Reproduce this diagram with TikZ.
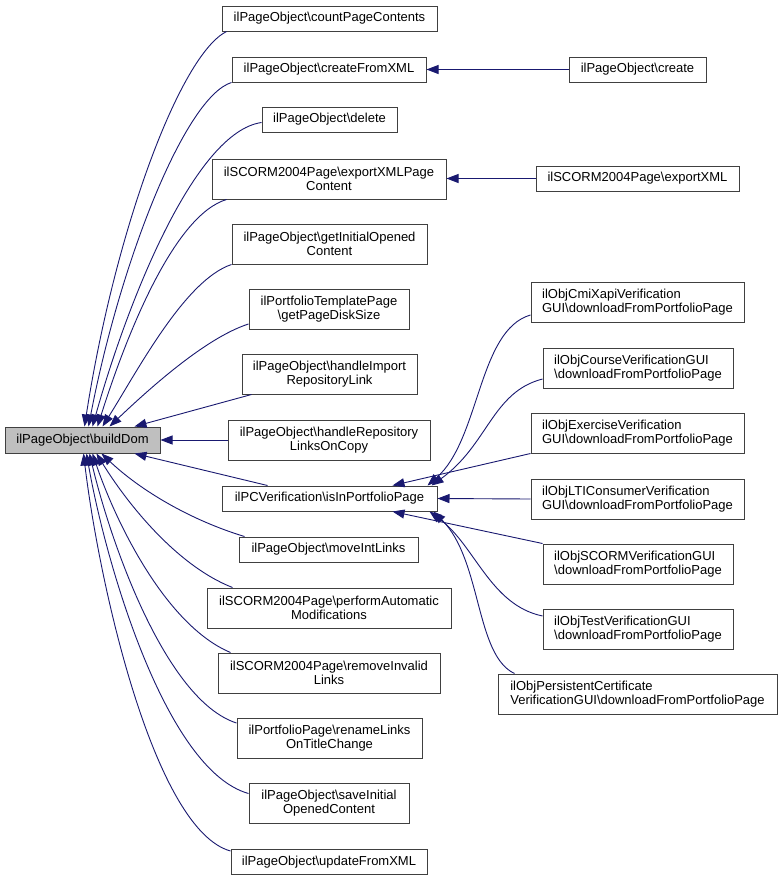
\documentclass[tikz,border=0pt]{standalone}
\usepackage{fontspec}
\setmainfont{Liberation Sans}
\usetikzlibrary{arrows.meta}
\definecolor{edgec}{HTML}{191970}
\definecolor{boxc}{HTML}{404040}
\definecolor{hlc}{HTML}{BFBFBF}
\newcommand{\bsl}{\textbackslash{}}
\begin{document}
\begin{tikzpicture}[x=1pt,y=-1pt,
  box/.style={draw=boxc, line width=1pt, fill=white, inner sep=0pt, font=\fontsize{13}{14}\selectfont, anchor=center},
  sz/.style 2 args={minimum width=#1pt, minimum height=#2pt},
  mid/.style={box, align=center},
  rgt/.style={box, align=left},
  cur/.style={box, fill=hlc, align=center},
  edge/.style={draw=edgec, line width=0.9pt, -{Triangle[length=12pt,width=9pt]}}
]
\fill[white] (0,0) rectangle (783,881);
\useasboundingbox (0,0) rectangle (783,881);

% focus node
\node[cur, sz={155}{26}] (bd) at (82.5,440) {ilPageObject\bsl buildDom};

% middle column
\node[mid, sz={215}{25}] (cnt) at (329.5,18.5) {ilPageObject\bsl countPageContents};
\node[mid, sz={194}{25}] (cfx) at (329,69.5) {ilPageObject\bsl createFromXML};
\node[mid, sz={135}{25}] (del) at (329.5,119.5) {ilPageObject\bsl delete};
\node[mid, sz={234}{40}] (exp) at (329,179) {ilSCORM2004Page\bsl exportXMLPage\\Content};
\node[mid, sz={195}{40}] (gio) at (329.5,244) {ilPageObject\bsl getInitialOpened\\Content};
\node[mid, sz={160}{40}] (gpd) at (329,309) {ilPortfolioTemplatePage\\\bsl getPageDiskSize};
\node[mid, sz={175}{40}] (hir) at (329.5,374) {ilPageObject\bsl handleImport\\RepositoryLink};
\node[mid, sz={202}{40}] (hrl) at (329,440) {ilPageObject\bsl handleRepository\\LinksOnCopy};
\node[mid, sz={215}{25}] (iip) at (329.5,498.5) {ilPCVerification\bsl isInPortfolioPage};
\node[mid, sz={179}{25}] (mil) at (328.5,549.5) {ilPageObject\bsl moveIntLinks};
\node[mid, sz={244}{40}] (pam) at (329,608) {ilSCORM2004Page\bsl performAutomatic\\Modifications};
\node[mid, sz={222}{40}] (ril) at (329,673) {ilSCORM2004Page\bsl removeInvalid\\Links};
\node[mid, sz={185}{40}] (rlt) at (329.5,738) {ilPortfolioPage\bsl renameLinks\\OnTitleChange};
\node[mid, sz={160}{40}] (sio) at (329,803.5) {ilPageObject\bsl saveInitial\\OpenedContent};
\node[mid, sz={196}{25}] (ufx) at (329,862) {ilPageObject\bsl updateFromXML};

% right column
\node[mid, sz={137}{25}] (crt) at (637.5,69.5) {ilPageObject\bsl create};
\node[mid, sz={203}{25}] (exx) at (637.5,178.5) {ilSCORM2004Page\bsl exportXML};
\node[rgt, sz={213}{40}] (cmi) at (637.5,302.5) {ilObjCmiXapiVerification\\GUI\bsl downloadFromPortfolioPage};
\node[rgt, sz={190}{40}] (crs) at (638,368) {ilObjCourseVerificationGUI\\\bsl downloadFromPortfolioPage};
\node[rgt, sz={213}{40}] (exe) at (637.5,433) {ilObjExerciseVerification\\GUI\bsl downloadFromPortfolioPage};
\node[rgt, sz={213}{40}] (lti) at (637.5,499) {ilObjLTIConsumerVerification\\GUI\bsl downloadFromPortfolioPage};
\node[rgt, sz={190}{40}] (scm) at (638,564) {ilObjSCORMVerificationGUI\\\bsl downloadFromPortfolioPage};
\node[rgt, sz={190}{40}] (tst) at (638,629) {ilObjTestVerificationGUI\\\bsl downloadFromPortfolioPage};
\node[rgt, sz={279}{40}] (pcr) at (637.5,694) {ilObjPersistentCertificate\\VerificationGUI\bsl downloadFromPortfolioPage};

% edges into buildDom (top side)
\draw[edge] ([xshift=5pt]cnt.south west) .. controls (180,55) and (115,230) .. ([xshift=80pt]bd.north west);
\draw[edge] (cfx.south west) .. controls (185,97) and (120,262) .. ([xshift=84pt]bd.north west);
\draw[edge] ([yshift=-3pt]del.west) .. controls (195,132) and (128,300) .. ([xshift=88pt]bd.north west);
\draw[edge] ([xshift=15pt]exp.south west) .. controls (175,215) and (128,330) .. ([xshift=93pt]bd.north west);
\draw[edge] (gio.south west) .. controls (185,280) and (138,370) .. ([xshift=98pt]bd.north west);
\draw[edge] ([yshift=-15pt]gpd.west) .. controls (205,338) and (148,390) .. ([xshift=105pt]bd.north west);
\draw[edge] ([xshift=10pt]hir.south west) -- ([xshift=130pt]bd.north west);
\draw[edge] (hrl.west) -- (bd.east);
% edges into buildDom (bottom side)
\draw[edge] ([xshift=46pt]iip.north west) -- ([xshift=130pt]bd.south west);
\draw[edge] ([xshift=6pt]mil.north west) .. controls (190,520) and (140,490) .. ([xshift=97pt]bd.south west);
\draw[edge] ([xshift=26pt]pam.north west) .. controls (175,565) and (125,500) .. ([xshift=92pt]bd.south west);
\draw[edge] ([xshift=13pt]ril.north west) .. controls (165,625) and (115,520) .. ([xshift=88pt]bd.south west);
\draw[edge] ([yshift=15pt]rlt.west) .. controls (165,700) and (110,540) .. ([xshift=85pt]bd.south west);
\draw[edge] ([yshift=10pt]sio.west) .. controls (165,770) and (105,560) .. ([xshift=82pt]bd.south west);
\draw[edge] ([yshift=11pt]ufx.west) .. controls (155,830) and (100,590) .. ([xshift=79pt]bd.south west);

% right column edges
\draw[edge] (crt.west) -- (cfx.east);
\draw[edge] (exx.west) -- (exx.west -| exp.east);
\draw[edge] ([yshift=-12.5pt]cmi.west) .. controls (478,330) and (480,440) .. ([xshift=206pt]iip.north west);
\draw[edge] ([yshift=-11pt]crs.west) .. controls (492,392) and (488,445) .. ([xshift=210pt]iip.north west);
\draw[edge] (exe.south west) -- ([xshift=171pt]iip.north west);
\draw[edge] (lti.west) -- (iip.east);
\draw[edge] (scm.north west) -- ([xshift=171pt]iip.south west);
\draw[edge] ([yshift=13pt]tst.west) .. controls (490,605) and (475,545) .. ([xshift=208pt]iip.south west);
\draw[edge] ([xshift=17pt]pcr.north west) .. controls (475,655) and (482,560) .. ([xshift=212pt]iip.south west);
\end{tikzpicture}
\end{document}
